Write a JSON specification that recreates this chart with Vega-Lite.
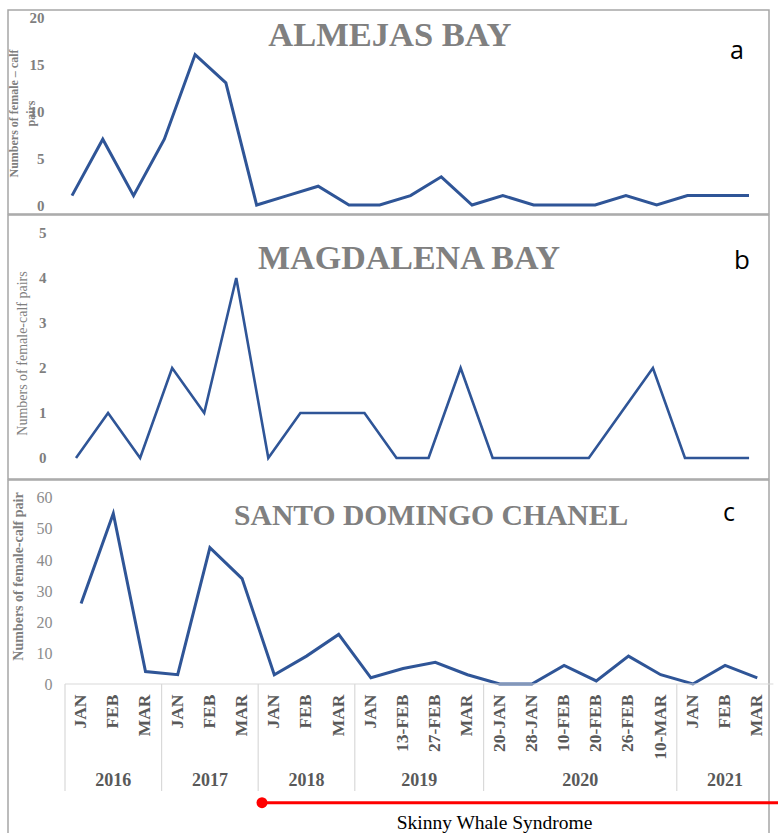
{
  "$schema": "https://vega.github.io/schema/vega-lite/v6.json",
  "padding": {"top": 9, "left": 6, "right": 0, "bottom": 0},
  "spacing": 1,
  "bounds": "flush",
  "config": {
    "font": "Liberation Serif",
    "view": {"stroke": "#a6a6a6", "strokeWidth": 1.5},
    "axis": {"domain": false, "ticks": false, "tickSize": 0, "grid": false, "labelPadding": 2}
  },
  "datasets": {
    "almejas": [
      {"i": 0, "n": 1}, {"i": 1, "n": 7}, {"i": 2, "n": 1}, {"i": 3, "n": 7}, {"i": 4, "n": 16},
      {"i": 5, "n": 13}, {"i": 6, "n": 0}, {"i": 7, "n": 1}, {"i": 8, "n": 2}, {"i": 9, "n": 0},
      {"i": 10, "n": 0}, {"i": 11, "n": 1}, {"i": 12, "n": 3}, {"i": 13, "n": 0}, {"i": 14, "n": 1},
      {"i": 15, "n": 0}, {"i": 16, "n": 0}, {"i": 17, "n": 0}, {"i": 18, "n": 1}, {"i": 19, "n": 0},
      {"i": 20, "n": 1}, {"i": 21, "n": 1}, {"i": 22, "n": 1}
    ],
    "magdalena": [
      {"i": 0, "n": 0}, {"i": 1, "n": 1}, {"i": 2, "n": 0}, {"i": 3, "n": 2}, {"i": 4, "n": 1},
      {"i": 5, "n": 4}, {"i": 6, "n": 0}, {"i": 7, "n": 1}, {"i": 8, "n": 1}, {"i": 9, "n": 1},
      {"i": 10, "n": 0}, {"i": 11, "n": 0}, {"i": 12, "n": 2}, {"i": 13, "n": 0}, {"i": 14, "n": 0},
      {"i": 15, "n": 0}, {"i": 16, "n": 0}, {"i": 17, "n": 1}, {"i": 18, "n": 2}, {"i": 19, "n": 0},
      {"i": 20, "n": 0}, {"i": 21, "n": 0}
    ],
    "santo": [
      {"i": 0, "year": "2016", "month": "JAN", "n": 26},
      {"i": 1, "year": "2016", "month": "FEB", "n": 55},
      {"i": 2, "year": "2016", "month": "MAR", "n": 4},
      {"i": 3, "year": "2017", "month": "JAN", "n": 3},
      {"i": 4, "year": "2017", "month": "FEB", "n": 44},
      {"i": 5, "year": "2017", "month": "MAR", "n": 34},
      {"i": 6, "year": "2018", "month": "JAN", "n": 3},
      {"i": 7, "year": "2018", "month": "FEB", "n": 9},
      {"i": 8, "year": "2018", "month": "MAR", "n": 16},
      {"i": 9, "year": "2019", "month": "JAN", "n": 2},
      {"i": 10, "year": "2019", "month": "13-FEB", "n": 5},
      {"i": 11, "year": "2019", "month": "27-FEB", "n": 7},
      {"i": 12, "year": "2019", "month": "MAR", "n": 3},
      {"i": 13, "year": "2020", "month": "20-JAN", "n": 0},
      {"i": 14, "year": "2020", "month": "28-JAN", "n": 0},
      {"i": 15, "year": "2020", "month": "10-FEB", "n": 6},
      {"i": 16, "year": "2020", "month": "20-FEB", "n": 1},
      {"i": 17, "year": "2020", "month": "26-FEB", "n": 9},
      {"i": 18, "year": "2020", "month": "10-MAR", "n": 3},
      {"i": 19, "year": "2021", "month": "JAN", "n": 0},
      {"i": 20, "year": "2021", "month": "FEB", "n": 6},
      {"i": 21, "year": "2021", "month": "MAR", "n": 2}
    ]
  },
  "vconcat": [
    {
      "width": 761,
      "height": 204,
      "layer": [
        {
          "data": {"name": "almejas"},
          "mark": {"type": "line", "color": "#2f5597", "strokeWidth": 3},
          "encoding": {
            "x": {"field": "i", "type": "quantitative", "axis": null, "scale": {"domain": [-2.08, 22.65], "nice": false, "zero": false}},
            "y": {"field": "n", "type": "quantitative", "scale": {"domain": [-0.957, 20.745], "nice": false, "zero": false},
              "axis": {"values": [0, 5, 10, 15, 20], "offset": -38, "labelFontSize": 15, "labelFontWeight": "bold", "labelColor": "#7f7f7f",
                "title": ["Numbers of female – calf", "pairs"], "titleFontSize": 12, "titleFontWeight": "bold", "titleColor": "#7f7f7f",
                "titleLineHeight": 17, "titleBaseline": "middle", "titleX": -33, "titleY": 103}}
          }
        },
        {
          "data": {"values": [{"label": "ALMEJAS BAY"}]},
          "mark": {"type": "text", "font": "Liberation Serif", "fontSize": 34.5, "fontWeight": "bold", "color": "#808080", "align": "center", "baseline": "alphabetic"},
          "encoding": {"x": {"datum": 10.33}, "y": {"datum": 16.915}, "text": {"field": "label"}}
        },
        {
          "data": {"values": [{"label": "a"}]},
          "mark": {"type": "text", "font": "Open Sans", "fontSize": 25, "color": "#000000", "align": "center", "baseline": "alphabetic"},
          "encoding": {"x": {"datum": 21.61}, "y": {"datum": 15.53}, "text": {"field": "label"}}
        }
      ]
    },
    {
      "width": 761,
      "height": 264,
      "layer": [
        {
          "data": {"name": "magdalena"},
          "mark": {"type": "line", "color": "#2f5597", "strokeWidth": 2.6},
          "encoding": {
            "x": {"field": "i", "type": "quantitative", "axis": null, "scale": {"domain": [-2.122, 21.622], "nice": false, "zero": false}},
            "y": {"field": "n", "type": "quantitative", "scale": {"domain": [-0.467, 5.4], "nice": false, "zero": false},
              "axis": {"values": [0, 1, 2, 3, 4, 5], "offset": -40, "labelFontSize": 15, "labelFontWeight": "bold", "labelColor": "#7f7f7f",
                "title": "Numbers of female-calf pairs", "titleFontSize": 14, "titleFontWeight": "normal", "titleColor": "#7f7f7f",
                "titleBaseline": "middle", "titleX": -26, "titleY": 138}}
          }
        },
        {
          "data": {"values": [{"label": "MAGDALENA BAY"}]},
          "mark": {"type": "text", "font": "Liberation Serif", "fontSize": 34, "fontWeight": "bold", "color": "#808080", "align": "center", "baseline": "alphabetic"},
          "encoding": {"x": {"datum": 10.39}, "y": {"datum": 4.2}, "text": {"field": "label"}}
        },
        {
          "data": {"values": [{"label": "b"}]},
          "mark": {"type": "text", "font": "Open Sans", "fontSize": 26, "color": "#000000", "align": "center", "baseline": "alphabetic"},
          "encoding": {"x": {"datum": 20.78}, "y": {"datum": 4.2}, "text": {"field": "label"}}
        }
      ]
    },
    {
      "width": 761,
      "height": 360,
      "layer": [
        {
          "data": {"name": "santo"},
          "mark": {"type": "line", "color": "#2f5597", "strokeWidth": 3},
          "encoding": {
            "x": {"field": "i", "type": "quantitative", "axis": null, "scale": {"domain": [-2.27, 21.364], "nice": false, "zero": false}},
            "y": {"field": "n", "type": "quantitative", "scale": {"domain": [-50.32, 65.806], "nice": false, "zero": false},
              "axis": {"values": [0, 10, 20, 30, 40, 50, 60], "offset": -46, "labelFontSize": 16, "labelFontWeight": "normal", "labelColor": "#8c8c8c",
                "title": "Numbers of female-calf pair", "titleFontSize": 14, "titleFontWeight": "bold", "titleColor": "#7f7f7f",
                "titleBaseline": "middle", "titleX": -36, "titleY": 96}}
          }
        },
        {
          "data": {"values": [{"from": -0.5, "to": 21.5}]},
          "mark": {"type": "rule", "color": "#d9d9d9", "strokeWidth": 1.2},
          "encoding": {"x": {"field": "from", "type": "quantitative"}, "x2": {"field": "to"}, "y": {"datum": 0}}
        },
        {
          "data": {"name": "santo"},
          "mark": {"type": "rule", "color": "#d9d9d9", "strokeWidth": 1.2, "xOffset": -16.1},
          "encoding": {
            "x": {"aggregate": "min", "field": "i", "type": "quantitative"},
            "detail": {"field": "year"},
            "y": {"datum": 0},
            "y2": {"datum": -34.5}
          }
        },
        {
          "data": {"name": "santo"},
          "mark": {"type": "text", "font": "Liberation Serif", "fontSize": 17.5, "fontWeight": "bold", "color": "#595959", "angle": 270, "align": "right", "baseline": "middle"},
          "encoding": {"x": {"field": "i", "type": "quantitative"}, "y": {"datum": -3.4}, "text": {"field": "month"}}
        },
        {
          "data": {"name": "santo"},
          "mark": {"type": "text", "font": "Liberation Serif", "fontSize": 18, "fontWeight": "bold", "color": "#595959", "align": "center", "baseline": "middle"},
          "encoding": {"x": {"aggregate": "mean", "field": "i", "type": "quantitative"}, "y": {"datum": -31.3}, "text": {"field": "year"}}
        },
        {
          "data": {"values": [{"start": 5.618, "end": 22.2}]},
          "mark": {"type": "rule", "color": "#ff0000", "strokeWidth": 3},
          "encoding": {"x": {"field": "start", "type": "quantitative"}, "x2": {"field": "end"}, "y": {"datum": -38.3}}
        },
        {
          "data": {"values": [{"start": 5.618}]},
          "mark": {"type": "point", "filled": true, "color": "#ff0000", "size": 120, "opacity": 1},
          "encoding": {"x": {"field": "start", "type": "quantitative"}, "y": {"datum": -38.3}}
        },
        {
          "data": {"values": [{"label": "Skinny Whale Syndrome"}]},
          "mark": {"type": "text", "font": "Liberation Serif", "fontSize": 19.5, "color": "#000000", "align": "center", "baseline": "middle"},
          "encoding": {"x": {"datum": 12.84}, "y": {"datum": -44.7}, "text": {"field": "label"}}
        },
        {
          "data": {"values": [{"label": "SANTO DOMINGO CHANEL"}]},
          "mark": {"type": "text", "font": "Liberation Serif", "fontSize": 29.6, "fontWeight": "bold", "color": "#808080", "align": "center", "baseline": "alphabetic"},
          "encoding": {"x": {"datum": 10.87}, "y": {"datum": 51.29}, "text": {"field": "label"}}
        },
        {
          "data": {"values": [{"label": "c"}]},
          "mark": {"type": "text", "font": "Open Sans", "fontSize": 25, "color": "#000000", "align": "center", "baseline": "alphabetic"},
          "encoding": {"x": {"datum": 20.12}, "y": {"datum": 52.6}, "text": {"field": "label"}}
        }
      ]
    }
  ]
}
